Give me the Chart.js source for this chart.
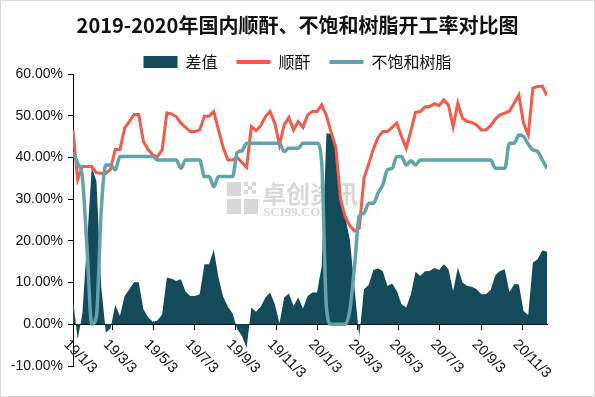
<!DOCTYPE html>
<html>
<head>
<meta charset="utf-8">
<script src="https://cdn.jsdelivr.net/npm/chart.js@4.4.1/dist/chart.umd.min.js"></script>
<style>
    html, body { margin: 0; padding: 0; background: #fff; }
    canvas { display: block; }
</style>
</head>
<body>
<canvas id="grafico" width="595" height="397"></canvas>
<script>
// weekly dates (yy/m/d)
const weeks = [
    '19/1/3','19/1/10','19/1/17','19/1/24','19/1/31','19/2/7','19/2/14','19/2/21','19/2/28','19/3/7',
    '19/3/14','19/3/21','19/3/28','19/4/4','19/4/11','19/4/18','19/4/25','19/5/2','19/5/9','19/5/16',
    '19/5/23','19/5/30','19/6/6','19/6/13','19/6/20','19/6/27','19/7/4','19/7/11','19/7/18','19/7/25',
    '19/8/1','19/8/8','19/8/15','19/8/22','19/8/29','19/9/5','19/9/12','19/9/19','19/9/26','19/10/3',
    '19/10/10','19/10/17','19/10/24','19/10/31','19/11/7','19/11/14','19/11/21','19/11/28','19/12/5','19/12/12',
    '19/12/19','19/12/26','20/1/2','20/1/9','20/1/16','20/1/23','20/1/30','20/2/6','20/2/13','20/2/20',
    '20/2/27','20/3/5','20/3/12','20/3/19','20/3/26','20/4/2','20/4/9','20/4/16','20/4/23','20/4/30',
    '20/5/7','20/5/14','20/5/21','20/5/28','20/6/4','20/6/11','20/6/18','20/6/25','20/7/2','20/7/9',
    '20/7/16','20/7/23','20/7/30','20/8/6','20/8/13','20/8/20','20/8/27','20/9/3','20/9/10','20/9/17',
    '20/9/24','20/10/1','20/10/8','20/10/15','20/10/22','20/10/29','20/11/5','20/11/12','20/11/19','20/11/26',
    '20/12/3','20/12/10'
];

// 顺酐
const maleic = [
    46.5, 34.7, 37.8, 37.8, 37.8, 36.3, 36.2, 36.2, 37.2, 41.9,
    41.9, 47.0, 48.6, 50.3, 50.3, 43.8, 41.9, 40.6, 40.2, 41.8,
    50.7, 50.4, 49.8, 48.2, 47.2, 46.2, 46.2, 46.6, 49.9, 49.9,
    51.0, 46.6, 42.4, 39.4, 39.4, 40.0, 38.8, 37.6, 47.4, 46.4,
    47.6, 49.8, 51.0, 48.2, 43.0, 47.8, 49.6, 46.6, 48.6, 47.2,
    50.2, 51.0, 51.0, 52.6, 50.0, 46.0, 42.4, 30.0, 25.8, 23.6,
    22.4, 23.0, 35.0, 38.4, 42.0, 44.8, 46.2, 46.2, 47.2, 48.2,
    45.0, 42.2, 46.4, 50.8, 51.0, 52.1, 52.2, 52.9, 52.4, 53.8,
    52.6, 47.4, 53.0, 49.4, 48.6, 48.4, 47.8, 46.6, 46.6, 47.6,
    49.2, 50.2, 50.6, 51.1, 53.0, 55.0, 48.2, 45.4, 56.6, 57.0,
    57.1, 54.8
];

// 不饱和树脂
const resin = [
    41.2, 38.6, 35.2, 18.0, 0.0, 2.0, 27.0, 38.2, 38.2, 37.0,
    40.2, 40.2, 40.2, 40.2, 40.2, 40.2, 40.2, 40.2, 39.4, 39.4,
    39.4, 39.4, 39.4, 37.4, 39.4, 39.4, 39.4, 39.4, 35.4, 35.4,
    33.0, 35.4, 35.4, 35.4, 35.4, 41.2, 41.6, 43.4, 43.4, 43.4,
    43.4, 43.4, 43.4, 43.4, 43.4, 41.4, 42.2, 42.2, 42.2, 43.4,
    43.4, 43.4, 43.4, 38.6, 4.0, 0.0, 0.0, 0.0, 0.0, 3.5,
    14.0, 26.0, 26.6, 29.0, 29.0, 31.4, 33.4, 37.0, 37.4, 40.2,
    40.2, 38.2, 39.2, 38.2, 39.4, 39.4, 39.4, 39.4, 39.4, 39.4,
    39.4, 39.4, 39.4, 39.4, 39.4, 39.4, 39.4, 39.4, 39.4, 39.4,
    37.4, 37.4, 37.4, 43.4, 43.4, 45.4, 45.0, 43.2, 41.8, 41.4,
    39.4, 37.4
];

// 差值
const spread = [
    5.8, -3.6, 2.6, 19.8, 37.6, 34.3, 9.2, -2.0, -1.0, 4.6,
    2.0, 6.8, 8.4, 10.1, 10.1, 3.6, 1.7, 0.6, 0.9, 2.4,
    11.2, 10.9, 10.4, 10.8, 7.8, 6.8, 6.8, 7.2, 14.4, 14.4,
    17.9, 11.2, 6.6, 4.2, 2.6, -1.2, -2.8, -5.6, 4.0, 3.0,
    4.2, 6.4, 7.6, 4.8, 0.2, 6.4, 7.4, 4.4, 6.4, 3.8,
    6.8, 7.6, 7.6, 14.0, 45.8, 45.6, 42.4, 30.0, 25.8, 20.2,
    8.4, -3.0, 8.4, 9.4, 13.0, 13.4, 12.8, 9.2, 9.8, 8.0,
    4.8, 4.0, 7.2, 12.6, 11.6, 12.7, 12.8, 13.5, 13.0, 14.4,
    13.2, 8.0, 13.6, 10.0, 9.2, 9.0, 8.4, 7.2, 7.2, 8.2,
    11.8, 12.8, 13.2, 7.7, 9.6, 9.6, 3.2, 2.2, 14.8, 15.6,
    17.7, 17.4
];

const xTickLabels = ['19/1/3','19/3/3','19/5/3','19/7/3','19/9/3','19/11/3','20/1/3','20/3/3','20/5/3','20/7/3','20/9/3','20/11/3'];
const yTickValues = [-10, 0, 10, 20, 30, 40, 50, 60];

const title = '2019-2020年国内顺酐、不饱和树脂开工率对比图';
const seriesNames = ['差值', '顺酐', '不饱和树脂'];

// days since the first week
function dayOf(label) {
    const [y, m, d] = label.split('/').map(Number);
    return (Date.UTC(2000 + y, m - 1, d) - Date.UTC(2019, 0, 3)) / 86400000;
}

function toPoints(values) {
    return values.map((v, i) => ({x: dayOf(weeks[i]), y: v}));
}

const cjk = '"Noto Sans CJK SC", sans-serif';
const latin = '"Liberation Sans", Arial, sans-serif';

const background = {
    id: 'background',
    beforeDraw(chart) {
        const ctx = chart.ctx;
        ctx.save();
        ctx.fillStyle = '#fff';
        ctx.fillRect(0, 0, chart.width, chart.height);
        ctx.strokeStyle = '#d9d9d9';
        ctx.lineWidth = 1;
        ctx.strokeRect(0.5, 0.5, chart.width - 1, chart.height - 1);
        ctx.restore();
    }
};

const watermark = {
    id: 'watermark',
    beforeDatasetsDraw(chart) {
        const ctx = chart.ctx;
        ctx.save();
        ctx.fillStyle = '#d8d8d8';
        ctx.fillRect(227, 182, 14, 14);
        ctx.fillRect(227, 199, 14, 15);
        ctx.fillRect(244, 199, 14, 15);
        [[244, 182], [252, 182], [248, 186], [244, 190], [252, 190]].forEach(([a, b]) => ctx.fillRect(a, b, 4, 4));
        ctx.font = 'bold 24px ' + cjk;
        ctx.textBaseline = 'alphabetic';
        ctx.fillText('卓创资讯', 262, 203);
        ctx.font = 'bold 13px "Liberation Serif", serif';
        ctx.fillText('SCI99.COM', 263, 216);
        ctx.restore();
    }
};

// rotated date labels hanging under the 0% line
const xLabels = {
    id: 'xLabels',
    afterDraw(chart) {
        const {ctx, scales: {x, y}} = chart;
        const y0 = y.getPixelForValue(0);
        ctx.save();
        ctx.font = '14.5px ' + latin;
        ctx.fillStyle = '#111';
        ctx.textAlign = 'left';
        ctx.textBaseline = 'middle';
        xTickLabels.forEach(l => {
            ctx.save();
            ctx.translate(x.getPixelForValue(dayOf(l)) - 7, y0 + 18);
            ctx.rotate(Math.PI / 4);
            ctx.fillText(l, 0, 0);
            ctx.restore();
        });
        ctx.restore();
    }
};

const defaultLabels = Chart.defaults.plugins.legend.labels.generateLabels;

new Chart(document.getElementById('grafico'), {
    type: 'line',
    data: {
        datasets: [{
            label: seriesNames[0],
            data: toPoints(spread),
            fill: 'origin',
            backgroundColor: '#144b5b',
            borderColor: '#144b5b',
            borderWidth: 0,
            pointRadius: 0,
            tension: 0,
            order: 3
        }, {
            label: seriesNames[1],
            data: toPoints(maleic),
            fill: false,
            borderColor: '#f25a4a',
            backgroundColor: '#f25a4a',
            borderWidth: 3,
            pointRadius: 0,
            tension: 0,
            order: 2
        }, {
            label: seriesNames[2],
            data: toPoints(resin),
            fill: false,
            borderColor: '#62a3ab',
            backgroundColor: '#62a3ab',
            borderWidth: 3.5,
            pointRadius: 0,
            cubicInterpolationMode: 'monotone',
            order: 1
        }]
    },
    options: {
        responsive: false,
        animation: false,
        devicePixelRatio: 1,
        layout: {padding: {left: 0, right: 0, top: 0, bottom: 31}},
        scales: {
            x: {
                type: 'linear',
                position: {y: 0},
                min: dayOf(weeks[0]),
                max: dayOf(weeks[weeks.length - 1]),
                afterBuildTicks: s => { s.ticks = xTickLabels.map(l => ({value: dayOf(l)})); },
                ticks: {display: false},
                grid: {drawOnChartArea: false, drawTicks: true, tickLength: 5, color: '#000'},
                border: {color: '#000', width: 1}
            },
            y: {
                min: -10,
                max: 60,
                afterBuildTicks: s => { s.ticks = yTickValues.map(v => ({value: v})); },
                afterFit: s => { s.width = 73; },
                ticks: {
                    callback: v => v.toFixed(2) + '%',
                    font: {size: 14, family: latin},
                    color: '#111',
                    padding: 5
                },
                grid: {drawOnChartArea: false, drawTicks: true, tickLength: 5, color: '#000'},
                border: {color: '#000', width: 1}
            },
            // empty right margin, keeps title and legend centred on the full width
            spacer: {
                type: 'linear',
                axis: 'y',
                position: 'right',
                min: -10,
                max: 60,
                afterFit: s => { s.width = 48; },
                ticks: {display: false},
                grid: {display: false},
                border: {display: false}
            }
        },
        plugins: {
            title: {
                display: true,
                text: title,
                color: '#111',
                font: {size: 20, weight: 'bold', family: cjk, lineHeight: 1},
                padding: {top: 15, bottom: 0}
            },
            legend: {
                position: 'top',
                maxHeight: 39,
                labels: {
                    usePointStyle: true,
                    pointStyleWidth: 34,
                    boxHeight: 12,
                    padding: 19,
                    color: '#111',
                    font: {size: 16, family: cjk},
                    sort: (a, b) => a.datasetIndex - b.datasetIndex,
                    generateLabels: chart => {
                        const items = defaultLabels(chart);
                        items.forEach(it => {
                            if (it.datasetIndex === 0) {
                                it.pointStyle = 'rect';
                                it.lineWidth = 0;
                            } else {
                                it.pointStyle = 'line';
                                it.lineWidth = 4;
                            }
                        });
                        return items;
                    }
                }
            },
            tooltip: {enabled: false}
        }
    },
    plugins: [background, watermark, xLabels]
});
</script>
</body>
</html>
